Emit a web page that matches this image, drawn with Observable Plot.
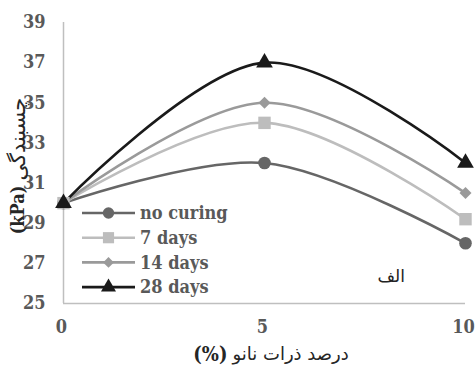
<!DOCTYPE html>
<html>
<head>
<meta charset="utf-8">
<script src="https://cdn.jsdelivr.net/npm/d3@7"></script>
<script src="https://cdn.jsdelivr.net/npm/@observablehq/plot@0.6"></script>
<style>
  body { margin: 0; background: #fff; }
  #chart { position: relative; width: 475px; height: 367px; }
  #chart svg text.serif { font-family: "DejaVu Serif Condensed", "DejaVu Serif", serif; font-stretch: condensed; }
</style>
</head>
<body>
<div id="chart"></div>
<script>
// Nano-particle content (%) on the x axis
const nanoPercent = [0, 5, 10];

// Cohesion (kPa) for each curing period
const seriesNames = ["no curing", "7 days", "14 days", "28 days"];
const noCuring = [30, 32, 28];
const days7 = [30, 34, 29.2];
const days14 = [30, 35, 30.5];
const days28 = [30, 37, 32];

const yTicks = [25, 27, 29, 31, 33, 35, 37, 39];
const xTicks = [0, 5, 10];

const seriesColors = ["#666666", "#bdbdbd", "#9a9a9a", "#1a1a1a"];
const seriesSymbols = ["circle", "square", "diamond2", "triangle"];
const seriesSizes = [6.3, 7, 5.4, 6.2];

const seriesValues = [noCuring, days7, days14, days28];
const rows = seriesNames.flatMap((name, i) =>
  nanoPercent.map((x, j) => ({series: name, x, y: seriesValues[i][j]}))
);

const persian = "'DejaVu Sans', 'Noto Sans', sans-serif";
const grey = "#595959";

const plot = Plot.plot({
  width: 475,
  height: 367,
  marginLeft: 63,
  marginRight: 10,
  marginTop: 22,
  marginBottom: 64,
  style: {fontSize: "18px", fontWeight: "bold", color: grey, background: "#fff"},
  x: {domain: [0, 10], ticks: xTicks, label: null},
  y: {domain: [25, 39], ticks: yTicks, label: null},
  symbol: {domain: seriesNames, range: seriesSymbols},
  marks: [
    Plot.ruleX([0], {stroke: "#bfbfbf", strokeWidth: 1.5}),
    Plot.ruleY([25], {stroke: "#bfbfbf", strokeWidth: 1.5}),
    Plot.axisX({ticks: xTicks, tickSize: 0, tickPadding: 17, label: null, fill: grey, dx: -2}),
    Plot.axisY({ticks: yTicks, tickSize: 0, tickPadding: 18, label: null, fill: grey}),
    ...seriesNames.map((name, i) =>
      Plot.line(rows.filter(d => d.series === name), {
        x: "x", y: "y", stroke: seriesColors[i], strokeWidth: 2.6, curve: "catmull-rom"
      })
    ),
    ...seriesNames.map((name, i) =>
      Plot.dot(rows.filter(d => d.series === name), {
        x: "x", y: "y", symbol: "series", fill: seriesColors[i], stroke: "none", r: seriesSizes[i]
      })
    ),
    Plot.text(["الف"], {
      x: 8.15, y: 26.35, text: d => d,
      fontFamily: persian, fontSize: 17, fontWeight: "normal", fill: "#222"
    })
  ]
});

document.getElementById("chart").appendChild(plot);

const svg = d3.select(plot);
svg.selectAll("[aria-label^='x-axis'] text, [aria-label^='y-axis'] text").classed("serif", true);

// Lays out text pieces left to right, centred on 0, inside the given group
function runOfText(g, pieces) {
  const nodes = pieces.map(p => g.append("text")
    .attr("class", p.cls || null)
    .attr("text-anchor", "start")
    .attr("dy", "0.35em")
    .attr("fill", "#262626")
    .style("font-family", p.font || null)
    .style("font-weight", p.weight)
    .style("font-size", p.size + "px")
    .text(p.text));
  const gap = 5;
  const widths = nodes.map(n => n.node().getComputedTextLength());
  const total = d3.sum(widths) + gap * (nodes.length - 1);
  let x = -total / 2;
  nodes.forEach((n, i) => { n.attr("x", x); x += widths[i] + gap; });
}

// Axis titles, set right-to-left: the unit sits on the left of the Persian words
runOfText(svg.append("g").attr("transform", "translate(271,354)"), [
  {text: "(%)", cls: "serif", weight: "bold", size: 20},
  {text: "درصد ذرات نانو", font: persian, weight: "normal", size: 18}
]);
runOfText(svg.append("g").attr("transform", "translate(18,166) rotate(-90)"), [
  {text: "(kPa)", cls: "serif", weight: "bold", size: 18},
  {text: "چسبندگی", font: persian, weight: "normal", size: 21}
]);

// Legend inside the plot area
const legend = svg.append("g").attr("transform", "translate(82,213)");
const symbolPaths = {
  circle: d3.symbolCircle, square: d3.symbolSquare, diamond2: d3.symbolDiamond2, triangle: d3.symbolTriangle
};
seriesNames.forEach((name, i) => {
  const row = legend.append("g").attr("transform", `translate(0,${i * 24.7})`);
  row.append("line").attr("x1", 0).attr("x2", 53).attr("y1", 0).attr("y2", 0)
    .attr("stroke", seriesColors[i]).attr("stroke-width", 2.6);
  const r = seriesSizes[i] * 0.9;
  row.append("path")
    .attr("transform", "translate(26.5,0)")
    .attr("d", d3.symbol(symbolPaths[seriesSymbols[i]], Math.PI * r * r)())
    .attr("fill", seriesColors[i]);
  row.append("text").attr("x", 58).attr("y", 0).attr("dy", "0.35em")
    .attr("class", "serif")
    .attr("text-anchor", "start")
    .attr("fill", grey)
    .style("font-weight", "bold").style("font-size", "18px")
    .text(name);
});
</script>
</body>
</html>
